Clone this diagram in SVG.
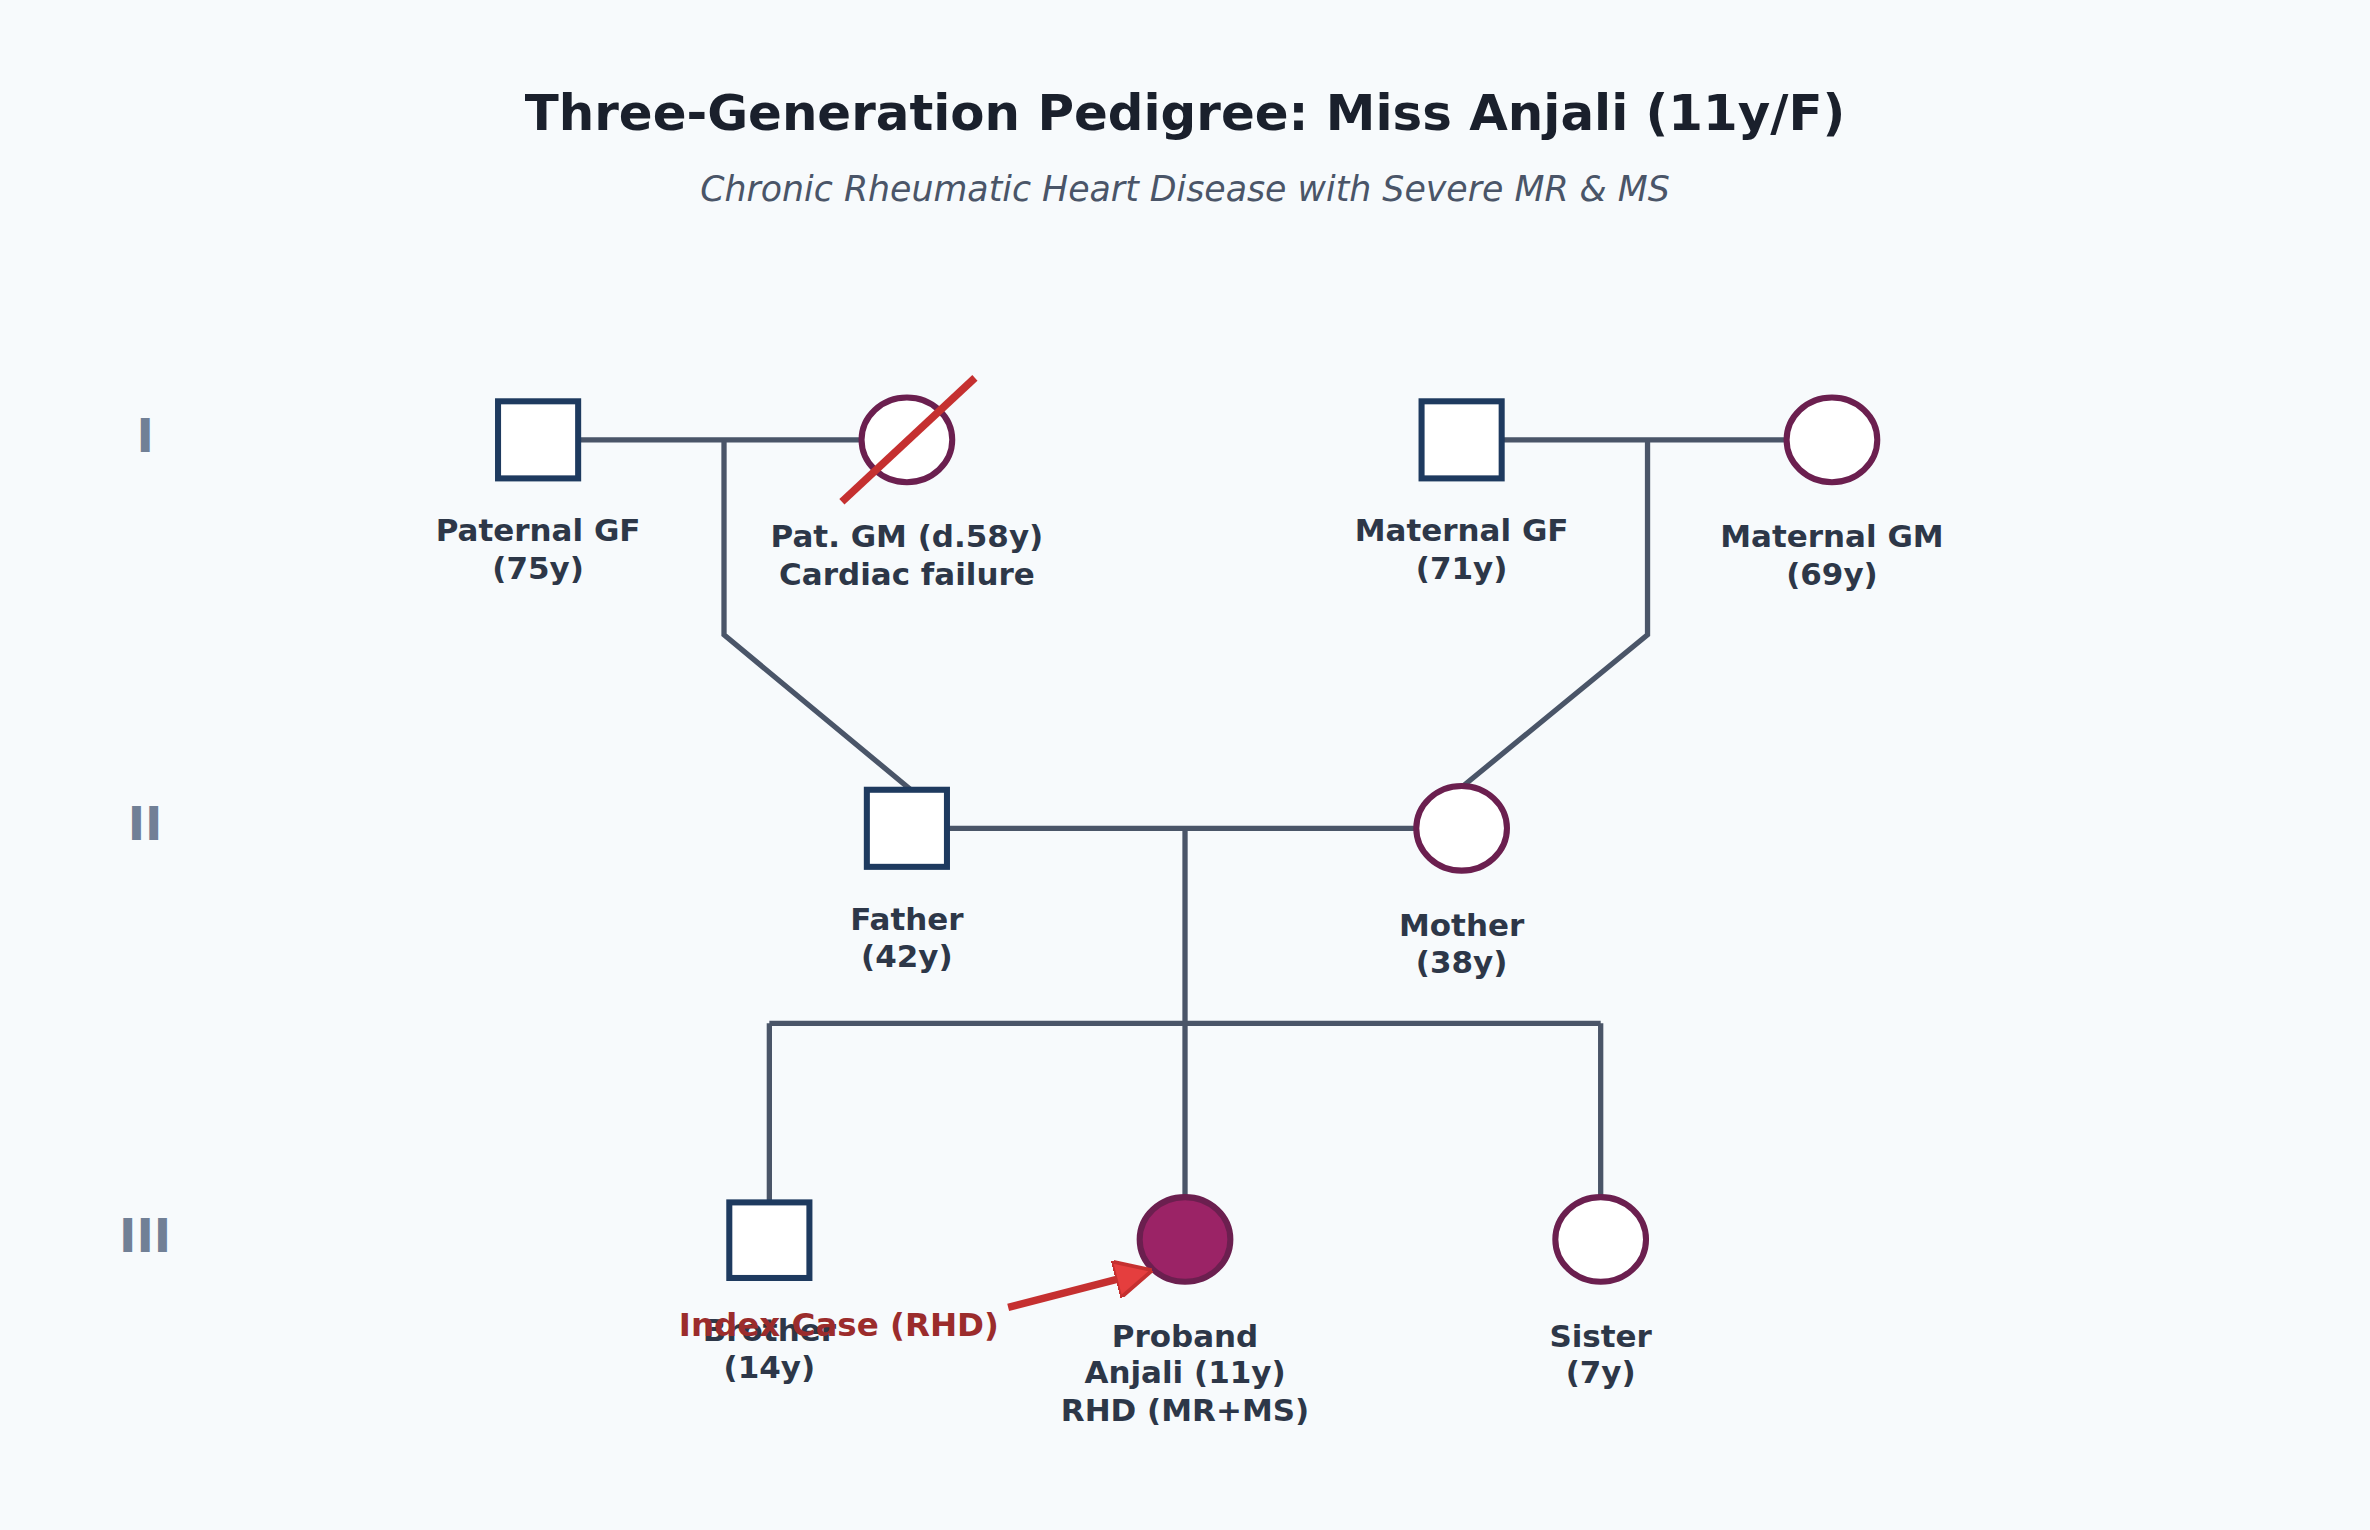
<svg xmlns="http://www.w3.org/2000/svg" width="2370" height="1530" viewBox="0 0 2370 1530">
<style>
text{font-family:"DejaVu Sans","Noto Sans",sans-serif;text-anchor:middle}
.lbl{font-size:20.5px;font-weight:bold;fill:#2d3748}
.gen{font-size:31px;font-weight:bold;fill:#718096}
.m{fill:#fff;stroke:#1e3a5f;stroke-width:4}
.f{fill:#fff;stroke:#6b1f4f;stroke-width:4}
.ln{fill:none;stroke:#4a5568;stroke-width:3.5}
</style>
<defs><marker id="ah" viewBox="0 0 10 10" refX="9" refY="5" markerWidth="5" markerHeight="5" orient="auto"><path d="M0,0L10,5L0,10z" fill="#e53e3e" stroke="#c53030"/></marker></defs>
<rect width="2370" height="1530" fill="#f7fafc"/>
<g transform="scale(1.5115)">
<text x="784" y="86" style="font-size:33px;font-weight:bold;fill:#1a202c">Three-Generation Pedigree: Miss Anjali (11y/F)</text>
<text x="784" y="133" style="font-size:23px;font-style:italic;fill:#4a5568">Chronic Rheumatic Heart Disease with Severe MR &amp; MS</text>
<text class="gen" x="96" y="299">I</text>
<text class="gen" x="96" y="556">II</text>
<text class="gen" x="96" y="828">III</text>
<g id="connectors">
<path class="ln" d="M383,291H570M479,291V420L602,522"/>
<path class="ln" d="M994,291H1182M1090,291V420L968,520"/>
<path class="ln" d="M627,548H937M784,548V677M509,677H1059M509,677V795M784,677V792M1059,677V792"/>
</g>
<g id="pgf"><rect class="m" x="329.5" y="265.5" width="53" height="51"/><text class="lbl" x="356" y="358">Paternal GF</text><text class="lbl" x="356" y="383">(75y)</text></g>
<g id="pgm"><ellipse class="f" cx="600" cy="291" rx="30" ry="28"/><line x1="557" y1="332" x2="645" y2="250" stroke="#c53030" stroke-width="5"/><text class="lbl" x="600" y="362">Pat. GM (d.58y)</text><text class="lbl" x="600" y="387">Cardiac failure</text></g>
<g id="mgf"><rect class="m" x="940.5" y="265.5" width="53" height="51"/><text class="lbl" x="967" y="358">Maternal GF</text><text class="lbl" x="967" y="383">(71y)</text></g>
<g id="mgm"><ellipse class="f" cx="1212" cy="291" rx="30" ry="28"/><text class="lbl" x="1212" y="362">Maternal GM</text><text class="lbl" x="1212" y="387">(69y)</text></g>
<g id="father"><rect class="m" x="573.5" y="522.5" width="53" height="51"/><text class="lbl" x="600" y="615">Father</text><text class="lbl" x="600" y="640">(42y)</text></g>
<g id="mother"><ellipse class="f" cx="967" cy="548" rx="30" ry="28"/><text class="lbl" x="967" y="619">Mother</text><text class="lbl" x="967" y="644">(38y)</text></g>
<g id="brother"><rect class="m" x="482.5" y="795.5" width="53" height="50"/><text class="lbl" x="509" y="887">Brother</text><text class="lbl" x="509" y="912">(14y)</text></g>
<g id="proband"><ellipse cx="784" cy="820" rx="30" ry="28" fill="#9b2366" stroke="#6b1f4f" stroke-width="4"/><text class="lbl" x="784" y="891">Proband</text><text class="lbl" x="784" y="915">Anjali (11y)</text><text class="lbl" x="784" y="940">RHD (MR+MS)</text></g>
<g id="sister"><ellipse class="f" cx="1059" cy="820" rx="30" ry="28"/><text class="lbl" x="1059" y="891">Sister</text><text class="lbl" x="1059" y="915">(7y)</text></g>
<g id="index"><line x1="667" y1="865" x2="760" y2="841" stroke="#c53030" stroke-width="5" marker-end="url(#ah)"/><text x="555" y="884" style="font-size:21.5px;font-weight:bold;fill:#9b2c2c">Index Case (RHD)</text></g>
</g>
</svg>
